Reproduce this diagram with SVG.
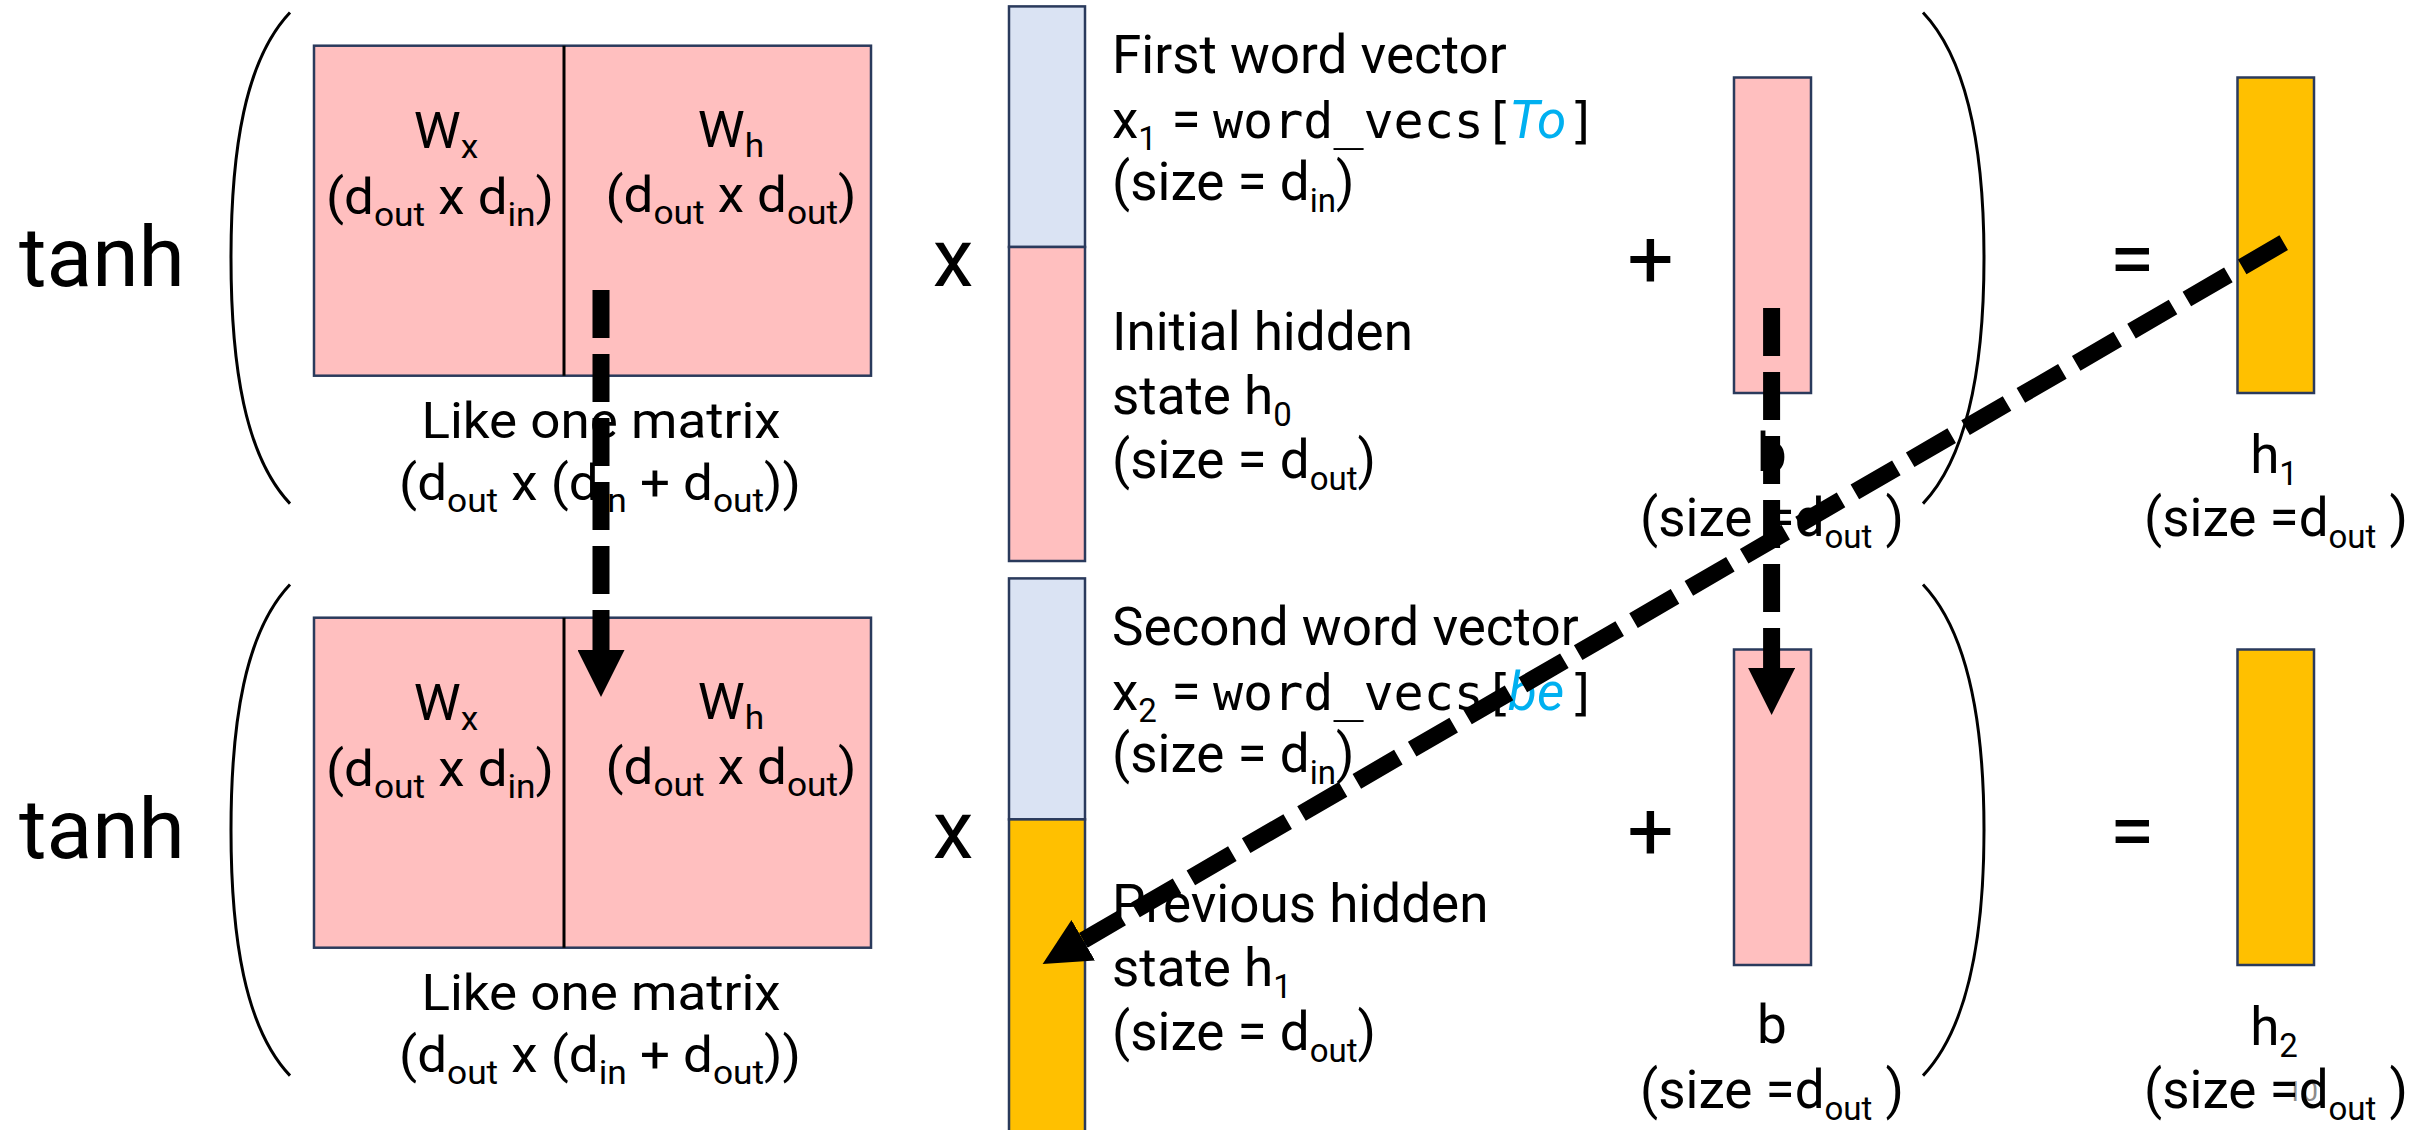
<svg xmlns="http://www.w3.org/2000/svg" width="2428" height="1130" viewBox="0 0 2428 1130">
<style>
text{font-family:Roboto,"Noto Sans","Liberation Sans",sans-serif;fill:#000}
.op{font-size:82px}
.tanh{font-size:84px}
.m{font-size:49.5px}
.t{font-size:53px}
.s{font-size:33px}
.mono{font-family:"DejaVu Sans Mono","Liberation Mono",monospace;font-size:50px}
.it{font-style:italic;fill:#00B0F0}
.pk{fill:#FFBFBF;stroke:#2A3A5C;stroke-width:2.5}
.bl{fill:#DAE3F3;stroke:#2A3A5C;stroke-width:2.5}
.or{fill:#FFC000;stroke:#2A3A5C;stroke-width:2.5}
.par{fill:none;stroke:#000;stroke-width:3}
.div{stroke:#000;stroke-width:3}
.arr{fill:none;stroke:#000;stroke-width:17;stroke-dasharray:48 16;marker-end:url(#ah)}
</style>
<defs>
<marker id="ah" viewBox="0 0 47 47" refX="0" refY="23.5" markerWidth="47" markerHeight="47" markerUnits="userSpaceOnUse" orient="auto">
<path d="M0,0 L47,23.5 L0,47 Z" fill="#000"/>
</marker>
</defs>

<!-- Row 1 -->
<g id="row1">
<g id="tanh1"><text class="tanh" x="19" y="286">tanh</text></g>
<g id="lparen1"><path class="par" d="M290,12.5 C245,60 231,150 231,258 C231,366 245,456 290,503.6"/></g>
<g id="matrix1">
<rect class="pk" x="314" y="45.7" width="557" height="330"/>
<line class="div" x1="564" y1="45.7" x2="564" y2="375.7"/>
<text class="m" text-anchor="middle" transform="translate(446,148) scale(1.07 1)">W<tspan class="s" dy="10">x</tspan></text>
<text class="m" text-anchor="middle" transform="translate(440,214) scale(1.07 1)">(d<tspan class="s" dy="12">out</tspan><tspan dy="-12"> x d</tspan><tspan class="s" dy="12">in</tspan><tspan dy="-12">)</tspan></text>
<text class="m" text-anchor="middle" transform="translate(731,146.5) scale(1.07 1)">W<tspan class="s" dy="10">h</tspan></text>
<text class="m" text-anchor="middle" transform="translate(731,211.5) scale(1.07 1)">(d<tspan class="s" dy="12">out</tspan><tspan dy="-12"> x d</tspan><tspan class="s" dy="12">out</tspan><tspan dy="-12">)</tspan></text>
<text class="m" text-anchor="middle" transform="translate(601,437.5) scale(1.07 1)">Like one matrix</text>
<text class="m" text-anchor="middle" transform="translate(600,500) scale(1.07 1)">(d<tspan class="s" dy="12">out</tspan><tspan dy="-12"> x (d</tspan><tspan class="s" dy="12">in</tspan><tspan dy="-12"> + d</tspan><tspan class="s" dy="12">out</tspan><tspan dy="-12">))</tspan></text>
</g>
<g id="times1"><text class="op" x="953" y="286" text-anchor="middle">x</text></g>
<g id="vector1">
<rect class="bl" x="1009" y="6.4" width="76" height="240.6"/>
<rect class="pk" x="1009" y="247" width="76" height="314"/>
<text class="t" x="1112" y="73">First word vector</text>
<text class="t" x="1112" y="137.5">x<tspan class="s" dy="12">1</tspan></text>
<text class="t" x="1171.5" y="137.5">=</text>
<text class="mono" x="1213" y="137.5">word_vecs[</text>
<text class="t it" x="1509" y="137.5">To</text>
<text class="mono" x="1567" y="137.5">]</text>
<text class="t" x="1112" y="200">(size = d<tspan class="s" dy="12">in</tspan><tspan dy="-12">)</tspan></text>
<text class="t" x="1112" y="350">Initial hidden</text>
<text class="t" x="1112" y="414">state h<tspan class="s" dy="12">0</tspan></text>
<text class="t" x="1112" y="478">(size = d<tspan class="s" dy="12">out</tspan><tspan dy="-12">)</tspan></text>
</g>
<g id="plus1"><text class="op" x="1650.5" y="287" text-anchor="middle">+</text></g>
<g id="bias1">
<rect class="pk" x="1734" y="77.5" width="77" height="315.5"/>
<text class="t" x="1772" y="471" text-anchor="middle">b</text>
<text class="t" x="1772" y="535.5" text-anchor="middle">(size =d<tspan class="s" dy="12">out</tspan><tspan dy="-12"> )</tspan></text>
</g>
<g id="rparen1"><path class="par" d="M1923,12.5 C1968,60 1984,150 1984,258 C1984,366 1968,456 1923,503.6"/></g>
<g id="eq1"><text class="op" x="2132" y="287" text-anchor="middle">=</text></g>
<g id="hidden1">
<rect class="or" x="2237.5" y="77.5" width="76.5" height="315.5"/>
<text class="t" x="2274" y="473" text-anchor="middle">h<tspan class="s" dy="12">1</tspan></text>
<text class="t" x="2276" y="535.5" text-anchor="middle">(size =d<tspan class="s" dy="12">out</tspan><tspan dy="-12"> )</tspan></text>
</g>
</g>

<!-- Row 2 -->
<g id="row2" transform="translate(0,572)">
<g id="tanh2"><text class="tanh" x="19" y="286">tanh</text></g>
<g id="lparen2"><path class="par" d="M290,12.5 C245,60 231,150 231,258 C231,366 245,456 290,503.6"/></g>
<g id="matrix2">
<rect class="pk" x="314" y="45.7" width="557" height="330"/>
<line class="div" x1="564" y1="45.7" x2="564" y2="375.7"/>
<text class="m" text-anchor="middle" transform="translate(446,148) scale(1.07 1)">W<tspan class="s" dy="10">x</tspan></text>
<text class="m" text-anchor="middle" transform="translate(440,214) scale(1.07 1)">(d<tspan class="s" dy="12">out</tspan><tspan dy="-12"> x d</tspan><tspan class="s" dy="12">in</tspan><tspan dy="-12">)</tspan></text>
<text class="m" text-anchor="middle" transform="translate(731,146.5) scale(1.07 1)">W<tspan class="s" dy="10">h</tspan></text>
<text class="m" text-anchor="middle" transform="translate(731,211.5) scale(1.07 1)">(d<tspan class="s" dy="12">out</tspan><tspan dy="-12"> x d</tspan><tspan class="s" dy="12">out</tspan><tspan dy="-12">)</tspan></text>
<text class="m" text-anchor="middle" transform="translate(601,437.5) scale(1.07 1)">Like one matrix</text>
<text class="m" text-anchor="middle" transform="translate(600,500) scale(1.07 1)">(d<tspan class="s" dy="12">out</tspan><tspan dy="-12"> x (d</tspan><tspan class="s" dy="12">in</tspan><tspan dy="-12"> + d</tspan><tspan class="s" dy="12">out</tspan><tspan dy="-12">))</tspan></text>
</g>
<g id="times2"><text class="op" x="953" y="286" text-anchor="middle">x</text></g>
<g id="vector2">
<rect class="bl" x="1009" y="6.4" width="76" height="241"/>
<rect class="or" x="1009" y="247.4" width="76" height="320"/>
<text class="t" x="1112" y="73">Second word vector</text>
<text class="t" x="1112" y="137.5">x<tspan class="s" dy="12">2</tspan></text>
<text class="t" x="1171.5" y="137.5">=</text>
<text class="mono" x="1213" y="137.5">word_vecs[</text>
<text class="t it" x="1508" y="137.5">be</text>
<text class="mono" x="1567" y="137.5">]</text>
<text class="t" x="1112" y="200">(size = d<tspan class="s" dy="12">in</tspan><tspan dy="-12">)</tspan></text>
<text class="t" x="1112" y="350">Previous hidden</text>
<text class="t" x="1112" y="414">state h<tspan class="s" dy="12">1</tspan></text>
<text class="t" x="1112" y="478">(size = d<tspan class="s" dy="12">out</tspan><tspan dy="-12">)</tspan></text>
</g>
<g id="plus2"><text class="op" x="1650.5" y="287" text-anchor="middle">+</text></g>
<g id="bias2">
<rect class="pk" x="1734" y="77.5" width="77" height="315.5"/>
<text class="t" x="1772" y="471" text-anchor="middle">b</text>
<text class="t" x="1772" y="535.5" text-anchor="middle">(size =d<tspan class="s" dy="12">out</tspan><tspan dy="-12"> )</tspan></text>
</g>
<g id="rparen2"><path class="par" d="M1923,12.5 C1968,60 1984,150 1984,258 C1984,366 1968,456 1923,503.6"/></g>
<g id="eq2"><text class="op" x="2132" y="287" text-anchor="middle">=</text></g>
<g id="hidden2">
<rect class="or" x="2237.5" y="77.5" width="76.5" height="315.5"/>
<text style="font-size:28px;fill:#8C8C8C" x="2318" y="529" text-anchor="end">10</text>
<text class="t" x="2274" y="473" text-anchor="middle">h<tspan class="s" dy="12">2</tspan></text>
<text class="t" x="2276" y="535.5" text-anchor="middle">(size =d<tspan class="s" dy="12">out</tspan><tspan dy="-12"> )</tspan></text>
</g>
</g>

<g id="connectors">
<path class="arr" d="M601,290 L601,650"/>
<path class="arr" d="M1771.6,308 L1771.6,668"/>
<path class="arr" d="M2283.7,242.7 L1083.3,940.3"/>
</g>
</svg>
